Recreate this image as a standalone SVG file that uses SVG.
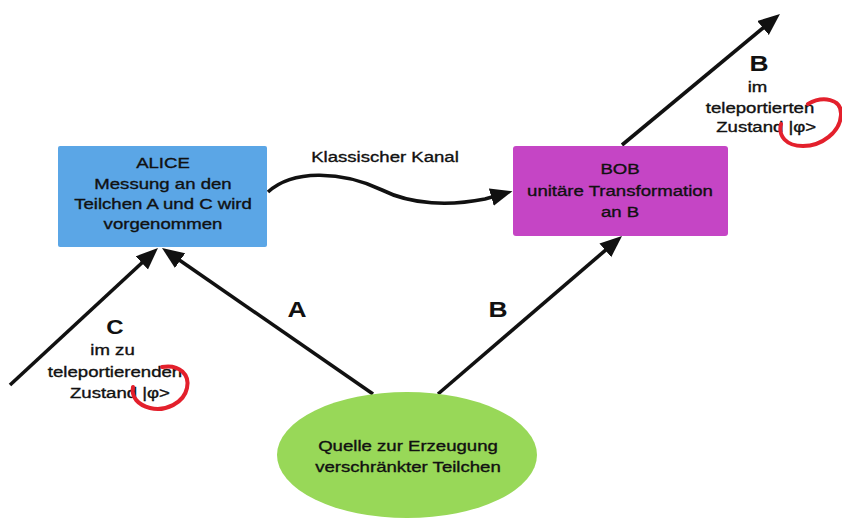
<svg xmlns="http://www.w3.org/2000/svg" width="842" height="522" viewBox="0 0 842 522">
<style>
text{font-family:"Liberation Sans",Arial,sans-serif;fill:#111;text-anchor:middle}
.t{font-size:15px;stroke:#111;stroke-width:0.35}
.big{font-size:22px;font-weight:bold}
.conn{fill:none;stroke:#111;stroke-width:3.6}
.red{fill:none;stroke:#e3202c;stroke-width:4;stroke-linecap:round}
</style>
<defs>
<marker id="ah" markerUnits="userSpaceOnUse" markerWidth="24" markerHeight="20" refX="8" refY="9" orient="auto" viewBox="0 0 24 20">
<path d="M0,0 L22,9 L0,18 z" fill="#111"/>
</marker>
</defs>
<rect width="842" height="522" fill="#fff"/>
<g id="connectors">
<path class="conn" d="M10,385 L147.7,257.5" marker-end="url(#ah)"/>
<path class="conn" d="M373,394 L173.5,256" marker-end="url(#ah)"/>
<path class="conn" d="M438,394 L611.4,245.1" marker-end="url(#ah)"/>
<path class="conn" d="M622,145 L769.2,22.9" marker-end="url(#ah)"/>
<path class="conn" d="M268,192 C292,170 340,170 382,190 C412,205 450,206 485,199 L499,195" marker-end="url(#ah)"/>
</g>
<g id="alice">
<rect x="58" y="146" width="209" height="101" rx="2" fill="#5ba6e6"/>
<g transform="translate(163,0) scale(1.24,1)">
<text class="t" x="0" y="168">ALICE</text>
<text class="t" x="0" y="189">Messung an den</text>
<text class="t" x="0" y="209">Teilchen A und C wird</text>
<text class="t" x="0" y="229">vorgenommen</text>
</g>
</g>
<g id="bob">
<rect x="513" y="146" width="215" height="90" rx="3" fill="#c545c5"/>
<g transform="translate(620,0) scale(1.24,1)">
<text class="t" x="0" y="174">BOB</text>
<text class="t" x="0" y="196">unitäre Transformation</text>
<text class="t" x="0" y="217">an B</text>
</g>
</g>
<g id="quelle">
<ellipse cx="407" cy="455" rx="130" ry="63" fill="#98d858"/>
<g transform="translate(408,0) scale(1.24,1)">
<text class="t" x="0" y="451">Quelle zur Erzeugung</text>
<text class="t" x="0" y="472">verschränkter Teilchen</text>
</g>
</g>
<g id="kanal-label" transform="translate(385,0) scale(1.24,1)">
<text class="t" x="0" y="162">Klassischer Kanal</text>
</g>
<g id="label-A" transform="translate(297,0) scale(1.2,1)">
<text class="big" x="0" y="317">A</text>
</g>
<g id="label-B" transform="translate(498,0) scale(1.2,1)">
<text class="big" x="0" y="317">B</text>
</g>
<g id="label-C">
<g transform="translate(115,0) scale(1.2,1)"><text class="big" x="0" y="334" style="font-size:20px">C</text></g>
<g transform="translate(115,0) scale(1.24,1)">
<text class="t" x="-2" y="355">im zu</text>
<text class="t" x="0" y="377">teleportierenden</text>
<text class="t" x="4" y="398">Zustand  |φ&gt;</text>
</g>
<path class="red" d="M162,367 C180,364 190,375 187,388 C184,403 165,412 150,408 C138,405 131,397 133,387"/>
</g>
<g id="label-B-out">
<g transform="translate(759,0) scale(1.2,1)"><text class="big" x="0" y="71">B</text></g>
<g transform="translate(760,0) scale(1.24,1)">
<text class="t" x="-2" y="92">im</text>
<text class="t" x="0" y="113">teleportierten</text>
<text class="t" x="5" y="132">Zustand  |φ&gt;</text>
</g>
<path class="red" d="M808,104 C822,96 842,98 841,115 C840,132 822,146 803,146 C786,146 778,136 781,124"/>
</g>
</svg>
